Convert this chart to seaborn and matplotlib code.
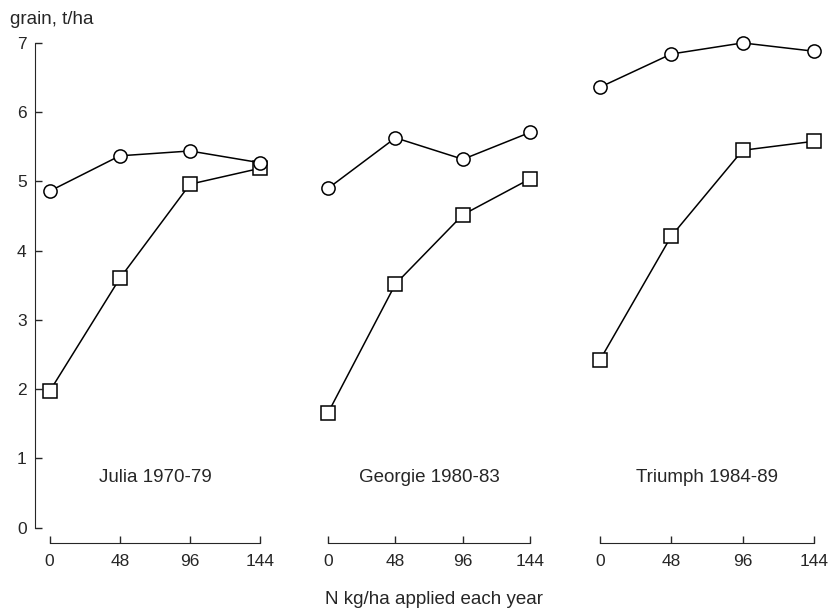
import numpy as np
import pandas as pd
from matplotlib import pyplot as plt
import seaborn as sns


N_RATES = [0, 48, 96, 144]
PANELS = ['Julia 1970-79', 'Georgie 1980-83', 'Triumph 1984-89']
CIRCLES = [
    [4.86, 5.37, 5.44, 5.27],
    [4.90, 5.63, 5.32, 5.71],
    [6.36, 6.84, 7.00, 6.88],
]
SQUARES = [
    [1.97, 3.60, 4.96, 5.19],
    [1.66, 3.52, 4.52, 5.04],
    [2.42, 4.21, 5.45, 5.58],
]
Y_TICKS = [0, 1, 2, 3, 4, 5, 6, 7]


def plot_panels(fig_name: str):
    sns.set_style('ticks')
    plt.rcParams['font.family'] = ['Liberation Sans', 'DejaVu Sans']
    plt.rcParams['font.size'] = 12

    fig = plt.figure(figsize=(8.29, 6.15), dpi=100)
    # axes rectangles in pixels: left, right
    rects = [(35, 266), (314, 536), (585, 820)]
    bottom, height = (615 - 543) / 615, (543 - 36) / 615

    for i, (label, (l, r)) in enumerate(zip(PANELS, rects)):
        ax = fig.add_axes([l / 829, bottom, (r - l) / 829, height])
        df = pd.DataFrame({
            'N': N_RATES * 2,
            'grain': CIRCLES[i] + SQUARES[i],
            'series': ['circle'] * 4 + ['square'] * 4,
        })
        sns.lineplot(data=df, x='N', y='grain', style='series',
                     style_order=['square', 'circle'],
                     markers={'circle': 'o', 'square': 's'}, dashes=False,
                     color='black', linewidth=1.1, markersize=9.5,
                     markerfacecolor='white', markeredgecolor='black',
                     markeredgewidth=1.1, legend=False, clip_on=False, ax=ax)
        ax.set_xlim(-10, 148)
        ax.set_ylim(-0.22, 7.1)
        ax.set_xticks(N_RATES)
        ax.set_xlabel('')
        ax.set_ylabel('')
        ax.spines['top'].set_visible(False)
        ax.spines['right'].set_visible(False)
        ax.spines['bottom'].set_bounds(0, 144)
        ax.tick_params(axis='x', direction='in', length=5, width=1, pad=8,
                       labelsize=12.5)
        if i == 0:
            ax.set_yticks(Y_TICKS)
            ax.spines['left'].set_bounds(0, 7)
            ax.tick_params(axis='y', direction='in', length=5, width=1, pad=6,
                           labelsize=12.5)
        else:
            ax.spines['left'].set_visible(False)
            ax.set_yticks([])
        ax.text(72, 0.72, label, ha='center', va='center', fontsize=13.5)
        ax.patch.set_alpha(0)

    fig.text(10 / 829, 1 - 19 / 615, 'grain, t/ha', ha='left', va='center',
             fontsize=13.5)
    fig.text(434 / 829, 1 - 600 / 615, 'N kg/ha applied each year',
             ha='center', va='center', fontsize=13.5)
    fig.savefig(fig_name, dpi=100)


if __name__ == '__main__':
    plot_panels('out.png')
